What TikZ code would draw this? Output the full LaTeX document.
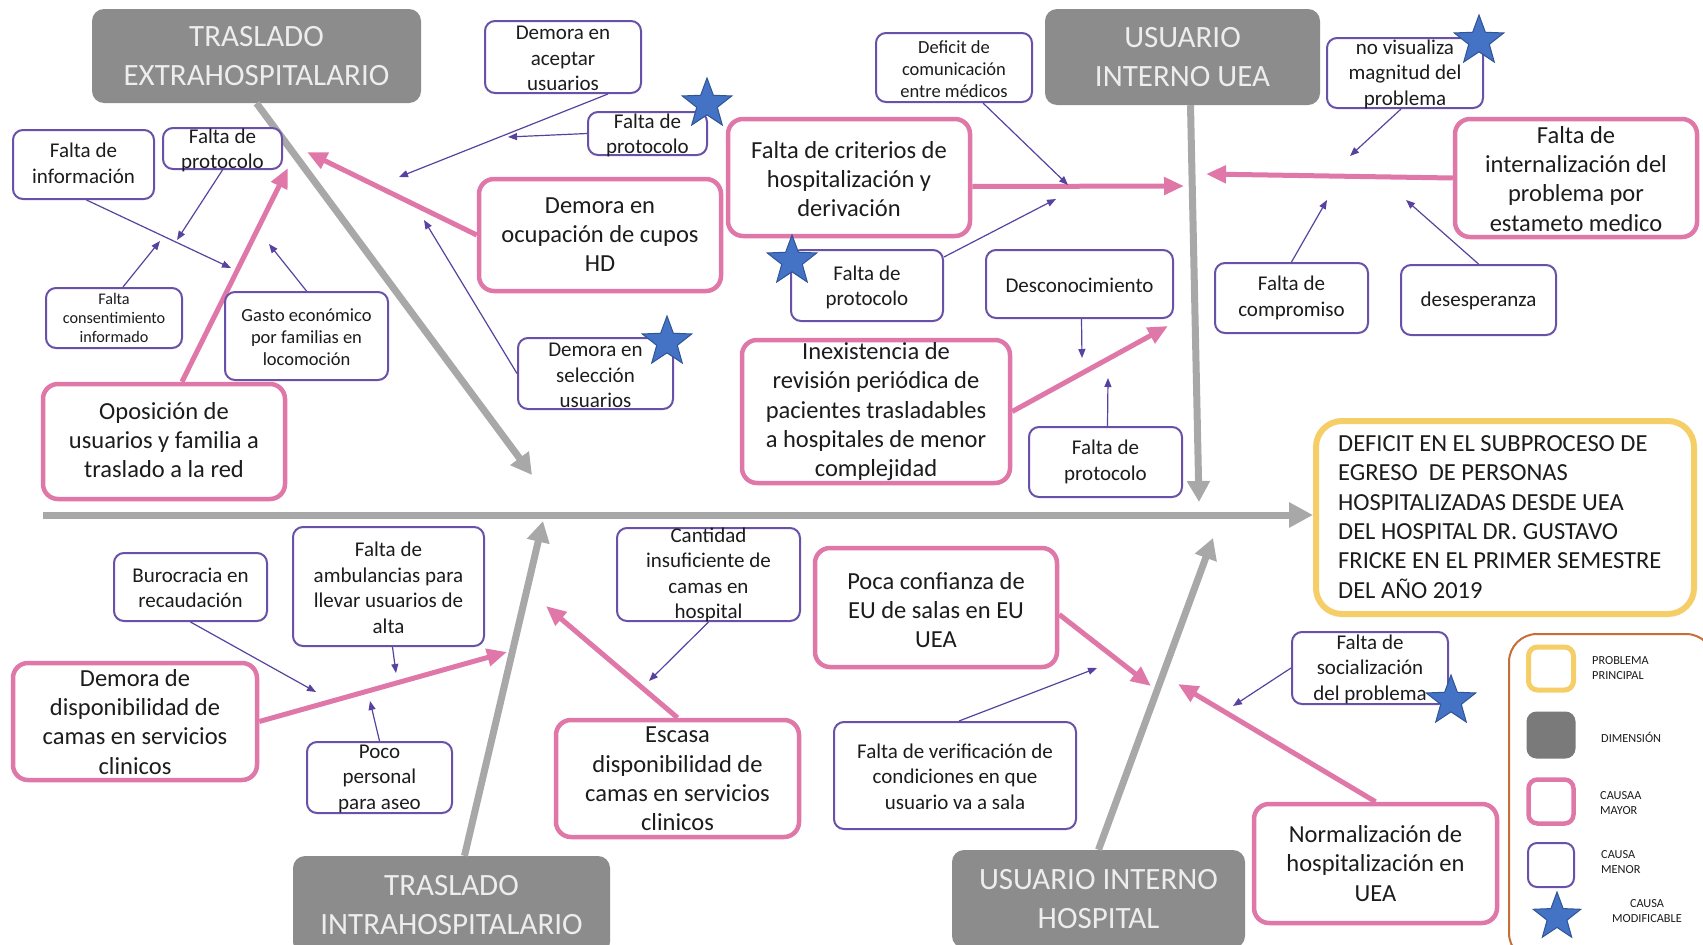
\documentclass[tikz,border=0pt]{standalone}
\usepackage{fontspec}
\setmainfont{Carlito}
\usetikzlibrary{arrows.meta,shapes.geometric}

\definecolor{pinkc}{RGB}{223,120,168}
\definecolor{purplec}{RGB}{105,80,168}
\definecolor{arrowc}{RGB}{88,66,160}
\definecolor{bonec}{RGB}{168,168,168}
\definecolor{dimc}{RGB}{140,140,140}
\definecolor{legdimc}{RGB}{122,122,122}
\definecolor{yellowc}{RGB}{246,206,104}
\definecolor{legendc}{RGB}{196,112,56}
\definecolor{starc}{RGB}{68,114,196}
\definecolor{stardark}{RGB}{47,85,151}
\definecolor{textc}{RGB}{28,28,28}

\newcommand\dimfont{\fontsize{31pt}{39pt}\selectfont}
\newcommand\majfont{\fontsize{24.5pt}{29.3pt}\selectfont}
\newcommand\minfont{\fontsize{21pt}{25.5pt}\selectfont}
\newcommand\minSfont{\fontsize{18.5pt}{22pt}\selectfont}
\newcommand\minXSfont{\fontsize{16.2pt}{19pt}\selectfont}
\newcommand\legfont{\fontsize{12.3pt}{14.5pt}\selectfont}

% box outline + its text, placed separately so the text may run over the frame
\newcommand\causebox[7]{%
  \node[#1, minimum width=#5pt, minimum height=#6pt] (#2) at (#3) {};
  \node[#1txt] (#2-t) at (#4) {#7};}

\begin{document}
\begin{tikzpicture}[x=1pt, y=-1pt,
  dimbox/.style={fill=dimc, rounded corners=12pt, text=white!93!black,
    font=\dimfont, align=center, inner sep=0pt},
  majbox/.style={draw=pinkc, line width=4.5pt, rounded corners=15pt, fill=white, inner sep=0pt},
  majboxtxt/.style={font=\majfont, align=center, inner sep=0pt, text=textc},
  minbox/.style={draw=purplec, line width=2pt, rounded corners=10pt, fill=white, inner sep=0pt},
  minboxtxt/.style={font=\minfont, align=center, inner sep=0pt, text=textc},
  minboxS/.style={minbox},
  minboxStxt/.style={font=\minSfont, align=center, inner sep=0pt, text=textc},
  minboxXS/.style={minbox},
  minboxXStxt/.style={font=\minXSfont, align=center, inner sep=0pt, text=textc},
  bone/.style={draw=bonec, line width=7pt, -{Triangle[length=21pt,width=22pt]}},
  spinestyle/.style={draw=bonec, line width=7pt, -{Triangle[length=24pt,width=24pt]}},
  majarrow/.style={draw=pinkc, line width=5pt, -{Triangle[length=20pt,width=17pt]}},
  minarrow/.style={draw=arrowc, line width=1.2pt, -{Triangle[length=9pt,width=7pt]}},
  modstar/.style={star, star points=5, star point ratio=2.4, fill=starc,
    draw=stardark, line width=1pt, minimum size=52pt, inner sep=0pt},
  legtxt/.style={font=\legfont, align=left, inner sep=0pt, text=textc, anchor=west},
]
\clip (0,0) rectangle (1703,945);
\fill[white] (0,0) rectangle (1703,945);

% ---- dimensions ----
\node[dimbox, minimum width=329pt, minimum height=94pt] (DE) at (256.5,56) {TRASLADO\\EXTRAHOSPITALARIO};
\node[dimbox, minimum width=275pt, minimum height=96pt] (DU) at (1182.5,57) {USUARIO\\INTERNO UEA};
\node[dimbox, minimum width=317pt, minimum height=98pt] (DI) at (451.5,905) {TRASLADO\\INTRAHOSPITALARIO};
\node[dimbox, minimum width=293pt, minimum height=98pt] (DH) at (1098.5,899) {USUARIO INTERNO\\HOSPITAL};

% ---- main problem ----
\node[draw=yellowc, line width=6pt, rounded corners=26pt, minimum width=378pt,
  minimum height=193pt, fill=white] (PB) at (1505,517.5) {};
\node[font=\majfont, align=left, inner sep=0pt, text=textc, anchor=west] (PB-t) at (1338,517)
  {DEFICIT EN EL SUBPROCESO DE\\EGRESO\ \ DE PERSONAS\\HOSPITALIZADAS DESDE UEA\\DEL HOSPITAL DR. GUSTAVO\\FRICKE EN EL PRIMER SEMESTRE\\DEL AÑO 2019};

% ---- spine and bones ----
\coordinate (sp0) at (43,515);
\coordinate (bDE) at (532,475);
\coordinate (bDU) at (1199,502);
\coordinate (bDI) at (543,521);
\coordinate (bDH) at (1213,538);
\draw[spinestyle] (sp0) -- (sp0 -| PB.west);
\draw[bone] (DE.south) -- (bDE);
\draw[bone] ([xshift=8pt]DU.south) -- (bDU);
\draw[bone] ([xshift=13pt]DI.north) -- (bDI);
\draw[bone] (DH.north) -- (bDH);

% ---- major causes ----
\causebox{majbox}{OP}{164,441.5}{164,440}{242}{115}{Oposición de\\usuarios y familia a\\traslado a la red}
\causebox{majbox}{DO}{600,235}{600,234.6}{242}{112}{Demora en\\ocupación de cupos\\HD}
\causebox{majbox}{FC}{849,177.5}{849,179}{242}{117}{Falta de criterios de\\hospitalización y\\derivación}
\causebox{majbox}{FI}{1576,178}{1576,178.7}{242}{118}{Falta de\\internalización del\\problema por\\estameto medico}
\causebox{majbox}{IN}{876,411.5}{876,411.6}{268}{143}{Inexistencia de\\revisión periódica de\\pacientes trasladables\\a hospitales de menor\\complejidad}
\causebox{majbox}{DD}{135,721.5}{135,721.7}{244}{117}{Demora de\\disponibilidad de\\camas en servicios\\clinicos}
\causebox{majbox}{ES}{677.5,778.5}{677.5,779}{243}{117}{Escasa\\disponibilidad de\\camas en servicios\\clinicos}
\causebox{majbox}{PC}{936,607.5}{936,610}{242}{119}{Poca confianza de\\EU de salas en EU\\UEA}
\causebox{majbox}{NO}{1375.5,863.5}{1375.5,863.5}{243}{119}{Normalización de\\hospitalización en\\UEA}

\coordinate (mOP) at (288,168);
\coordinate (mDO) at (307,152);
\coordinate (mFC) at (1184,186);
\coordinate (mFI) at (1206,174);
\coordinate (mIN) at (1168,326);
\coordinate (mDD) at (507,652);
\coordinate (mES) at (546,606);
\coordinate (mPC) at (1151,686);
\coordinate (mNO) at (1178,684);
\draw[majarrow] ([xshift=18pt]OP.north) -- (mOP);
\draw[majarrow] (DO.west) -- (mDO);
\draw[majarrow] ([yshift=-9pt]FC.east) -- (mFC);
\draw[majarrow] (FI.west) -- (mFI);
\draw[majarrow] (IN.east) -- (mIN);
\draw[majarrow] (DD.east) -- (mDD);
\draw[majarrow] (ES.north) -- (mES);
\draw[majarrow] ([yshift=-7pt]PC.east) -- (mPC);
\draw[majarrow] (NO.north) -- (mNO);

% ---- minor causes ----
\causebox{minbox}{FInf}{83.5,164.5}{83.5,163.5}{141}{69}{Falta de\\información}
\causebox{minbox}{FPa}{222.5,148.5}{222.5,150.4}{119}{41}{Falta de\\protocolo}
\causebox{minboxXS}{FCI}{114,318}{114,317.7}{136}{60}{Falta\\consentimiento\\informado}
\causebox{minboxS}{GE}{306.5,336}{306.5,336.7}{163}{88}{Gasto económico\\por familias en\\locomoción}
\causebox{minbox}{DA}{563,57}{563,58.6}{156}{72}{Demora en\\aceptar\\usuarios}
\causebox{minbox}{FPb}{647.5,133.5}{647.5,135.2}{119}{43}{Falta de\\protocolo}
\causebox{minbox}{DS}{595.5,373.5}{595.5,375.8}{155}{71}{Demora en\\selección\\usuarios}
\causebox{minboxS}{DC}{954,67.5}{954,69}{156}{69}{Deficit de\\comunicación\\entre médicos}
\causebox{minbox}{FPc}{867,285.5}{867,287.3}{152}{71}{Falta de\\protocolo}
\causebox{minbox}{DN}{1079.5,284}{1079.5,285.6}{187}{68}{Desconocimiento}
\causebox{minbox}{FPd}{1105.5,462}{1105.5,462.1}{153}{70}{Falta de\\protocolo}
\causebox{minbox}{NV}{1405,73}{1405,73.9}{156}{70}{no visualiza\\magnitud del\\problema}
\causebox{minbox}{FCo}{1291.5,298}{1291.5,298.1}{153}{70}{Falta de\\compromiso}
\causebox{minbox}{DES}{1478.5,300}{1478.5,300.8}{155}{70}{desesperanza}
\causebox{minbox}{BU}{190.5,587}{190.5,587.6}{153}{68}{Burocracia en\\recaudación}
\causebox{minbox}{FA}{388.5,586.5}{388.5,587.6}{191}{119}{Falta de\\ambulancias para\\llevar usuarios de\\alta}
\causebox{minbox}{PP}{379.5,777.5}{379.5,778.7}{145}{71}{Poco\\personal\\para aseo}
\causebox{minbox}{CI}{708.5,574.5}{708.5,575}{183}{93}{Cantidad\\insuficiente de\\camas en\\hospital}
\causebox{minbox}{FV}{955,775.5}{955,776.6}{242}{107}{Falta de verificación de\\condiciones en que\\usuario va a sala}
\causebox{minbox}{FS}{1370,668}{1370,669}{156}{72}{Falta de\\socialización\\del problema}

\coordinate (nFInf) at (231,268);
\coordinate (nFPa) at (177,240);
\coordinate (nFCI) at (160,241);
\coordinate (nGE) at (269,244);
\coordinate (nDA) at (399,177);
\coordinate (nFPb) at (508,137);
\coordinate (nDS) at (424,220);
\coordinate (nDC) at (1068,185);
\coordinate (nFPc) at (1056,199);
\coordinate (nDN) at (1082,358);
\coordinate (nFPd) at (1108,378);
\coordinate (nNV) at (1350,156);
\coordinate (nFCo) at (1327,200);
\coordinate (nDES) at (1406,200);
\coordinate (nBU) at (316,692);
\coordinate (nFA) at (396,673);
\coordinate (nPP) at (370,701);
\coordinate (nCI) at (649,681);
\coordinate (nFV) at (1097,668);
\coordinate (nFS) at (1233,706);

\draw[minarrow] ([xshift=3pt]FInf.south) -- (nFInf);
\draw[minarrow] (FPa.south) -- (nFPa);
\draw[minarrow] ([xshift=9pt]FCI.north) -- (nFCI);
\draw[minarrow] (GE.north) -- (nGE);
\draw[minarrow] ([xshift=45pt]DA.south) -- (nDA);
\draw[minarrow] (FPb.west) -- (nFPb);
\draw[minarrow] (DS.west) -- (nDS);
\draw[minarrow] ([xshift=29pt]DC.south) -- (nDC);
\draw[minarrow] ([yshift=-8pt]FPc.north east) -- (nFPc);
\draw[minarrow] ([xshift=2pt]DN.south) -- (nDN);
\draw[minarrow] ([xshift=2pt]FPd.north) -- (nFPd);
\draw[minarrow] ([xshift=-4pt]NV.south) -- (nNV);
\draw[minarrow] (FCo.north) -- (nFCo);
\draw[minarrow] (DES.north) -- (nDES);
\draw[minarrow] (BU.south) -- (nBU);
\draw[minarrow] ([xshift=4pt]FA.south) -- (nFA);
\draw[minarrow] (PP.north) -- (nPP);
\draw[minarrow] (CI.south) -- (nCI);
\draw[minarrow] ([xshift=4pt]FV.north) -- (nFV);
\draw[minarrow] (FS.west) -- (nFS);

% ---- modifiable-cause stars ----
\node[modstar] (st1) at (707,104) {};
\node[modstar] (st2) at (667,342) {};
\node[modstar] (st3) at (792,261) {};
\node[modstar] (st4) at (1479,41) {};
\node[modstar] (st5) at (1451,701) {};

% ---- legend ----
\node[draw=legendc, line width=2pt, rounded corners=28pt, minimum width=205pt,
  minimum height=327pt] (LG) at (1611.5,797.5) {};
\node[draw=yellowc, line width=5pt, rounded corners=9pt, minimum width=45pt, minimum height=43pt] (LY) at (1551,668.5) {};
\node[fill=legdimc, rounded corners=10pt, minimum width=49pt, minimum height=47pt] (LD) at (1551,735) {};
\node[draw=pinkc, line width=4.5pt, rounded corners=9pt, minimum width=45pt, minimum height=44pt] (LM) at (1551,801.5) {};
\node[draw=purplec, line width=2pt, rounded corners=9pt, minimum width=46pt, minimum height=44pt] (Lm) at (1551,865) {};
\node[modstar, minimum size=50pt] (LS) at (1557,917) {};
\node[legtxt] (LY-t) at (1592,668) {PROBLEMA\\PRINCIPAL};
\node[legtxt] (LD-t) at (1601,737) {DIMENSIÓN};
\node[legtxt] (LM-t) at (1600,803) {CAUSAA\\MAYOR};
\node[legtxt] (Lm-t) at (1601,862) {CAUSA\\MENOR};
\node[legtxt, align=center] (LS-t) at (1612,911) {CAUSA\\MODIFICABLE};
\end{tikzpicture}
\end{document}
